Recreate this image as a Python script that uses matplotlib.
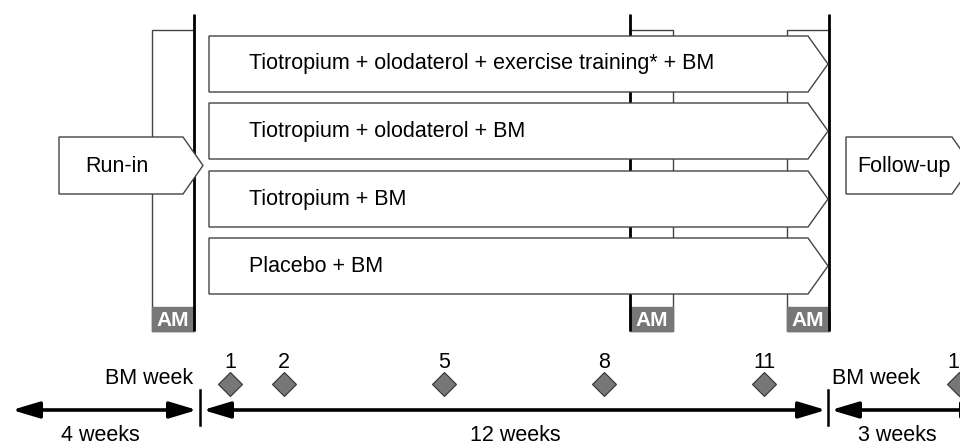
import numpy as np
import matplotlib.pyplot as plt
from matplotlib.patches import Polygon, Rectangle, FancyArrowPatch

plt.rcParams['font.family'] = ['Liberation Sans', 'DejaVu Sans']

# ---- data ----
arms = ['Tiotropium + olodaterol + exercise training* + BM',
        'Tiotropium + olodaterol + BM',
        'Tiotropium + BM',
        'Placebo + BM']
periods = ['Run-in', 'Treatment', 'Follow-up']
period_weeks = [4, 12, 3]
bm_weeks = [1, 2, 5, 8, 11, 15]
am_label = 'AM'

# ---- layout (pixel space) ----
fig = plt.figure(figsize=(9.6, 4.44), dpi=100)
ax = fig.add_axes([0, 0, 1, 1])
ax.set_xlim(0, 960)
ax.set_ylim(444, 0)
ax.axis('off')

edge = '#444444'
gray = '#777777'
fs = 15.5

# timeline x positions for period boundaries (weeks -> px)
bounds_w = np.cumsum([0] + period_weeks) - period_weeks[0]   # -4, 0, 12, 15
bounds_x = [10, 200, 828, 985]


def marker_x(w):
    # diamonds sit a little off the pure week scale in the drawing
    return np.interp(w, [0, 11, 15], [177, 764, 959])


def pentagon(x0, xb, xt, y0, y1, **kw):
    ym = (y0 + y1) / 2
    pts = [(x0, y0), (xb, y0), (xt, ym), (xb, y1), (x0, y1)]
    ax.add_patch(Polygon(pts, closed=True, fc='white', ec=edge, lw=1.0, **kw))


# assessment boxes (AM) with thick boundary lines
am_boxes = [(152, 194, 194), (630, 673, 630), (787, 829, 829)]
for xl, xr, xthick in am_boxes:
    ax.add_patch(Rectangle((xl, 30), xr - xl, 301, fc='white', ec=edge, lw=1.0, zorder=1))
    ax.add_patch(Rectangle((xl, 307), xr - xl, 24, fc=gray, ec=gray, lw=1.0, zorder=2))
    ax.text((xl + xr) / 2, 320, am_label, color='white', fontsize=15, fontweight='bold',
            ha='center', va='center', zorder=3)
    ax.plot([xthick, xthick], [14, 331], color='black', lw=2.0, zorder=4,
            solid_capstyle='butt')

# treatment arms
row_tops = [36, 103, 171, 238]
for label, yt in zip(arms, row_tops):
    pentagon(209, 808, 828, yt, yt + 56, zorder=5)
    ax.text(249, yt + 28, label, fontsize=fs, ha='left', va='center', zorder=6)

# run-in / follow-up
pentagon(59, 183, 203, 137, 194, zorder=5)
ax.text(85, 166, periods[0], fontsize=fs, ha='left', va='center', zorder=6)
pentagon(846, 952, 972, 137, 194, zorder=5)
ax.text(857, 166, periods[2], fontsize=fs, ha='left', va='center', zorder=6)

# timeline
ty = 410
segs = [(12, 197), (203, 826), (831, 990)]
for xa, xb in segs:
    ax.add_patch(FancyArrowPatch((xa, ty), (xb, ty), arrowstyle='<|-|>,head_length=1.1,head_width=0.33',
                                 mutation_scale=15, color='black', lw=2.6,
                                 shrinkA=0, shrinkB=0))
for xb in bounds_x[1:3]:
    ax.plot([xb, xb], [390, 425], color='black', lw=1.8)

labels_x = [100, 515, 897]
for w, lx in zip(period_weeks, labels_x):
    ax.text(lx, 435, f'{w} weeks', fontsize=fs, ha='center', va='center')

# BM weeks
for w in bm_weeks:
    x = marker_x(w)
    ax.plot(x, 384, marker='D', ms=12, mfc=gray, mec='#333333', mew=0.8)
    ax.text(x, 362, str(w), fontsize=fs, ha='center', va='center')
ax.text(193, 378, 'BM week', fontsize=fs, ha='right', va='center')
ax.text(832, 378, 'BM week', fontsize=fs, ha='left', va='center')

fig.savefig('out.png', dpi=100)
